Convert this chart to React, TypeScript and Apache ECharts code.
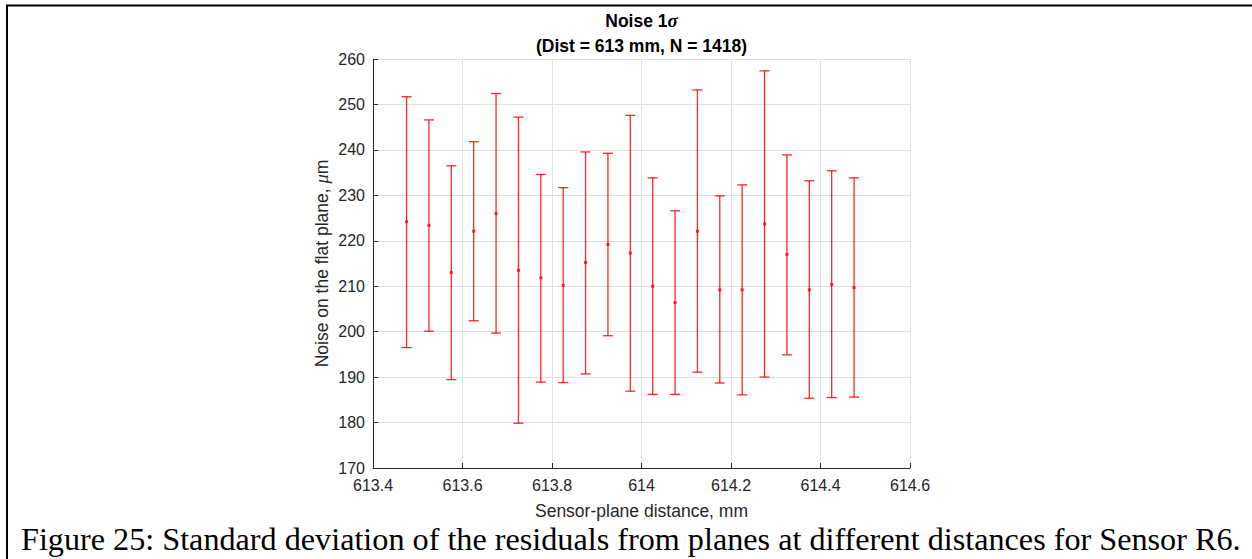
import React, { useEffect, useRef } from "react";
import * as echarts from "echarts";

const distances = [613.475, 613.525, 613.575, 613.625, 613.675, 613.725, 613.775, 613.825, 613.875, 613.925, 613.975, 614.025, 614.075, 614.125, 614.175, 614.225, 614.275, 614.325, 614.375, 614.425, 614.475];
const means = [224.2, 223.4, 213.0, 222.1, 226.0, 213.5, 211.85, 210.2, 215.2, 219.2, 217.3, 210.0, 206.4, 222.1, 209.2, 209.2, 223.7, 217.0, 209.2, 210.4, 209.7];
const uppers = [251.7, 246.6, 236.5, 241.8, 252.4, 247.2, 234.6, 231.7, 239.55, 239.25, 247.6, 233.85, 226.6, 253.2, 229.9, 232.3, 257.4, 238.9, 233.2, 235.4, 233.85];
const lowers = [196.5, 200.1, 189.45, 202.4, 199.7, 179.85, 188.9, 188.8, 190.7, 199.1, 186.9, 186.2, 186.2, 191.1, 188.7, 186.1, 190.0, 194.9, 185.35, 185.5, 185.6];

const titleLine1 = "Noise 1";
const titleSigma = "σ";
const titleLine2 = "(Dist = 613 mm, N = 1418)";
const xName = "Sensor-plane distance, mm";
const yNamePre = "Noise on the flat plane, ";
const yNameMu = "μ";
const yNamePost = "m";
const caption = "Figure 25: Standard deviation of the residuals from planes at different distances for Sensor R6.";

const SANS = "'Liberation Sans', Arial, Helvetica, sans-serif";
const SERIF = "'Liberation Serif', 'Times New Roman', serif";
const TXT = "#262626";
const RED = "#ff0000";

export default function App() {
  const ref = useRef<HTMLDivElement>(null);
  useEffect(() => {
    if (!ref.current) return;
    const chart = echarts.init(ref.current, undefined, { renderer: "svg" });
    const barData = distances.map((d, i) => [d, lowers[i], uppers[i]]);
    const meanData = distances.map((d, i) => [d, means[i]]);
    chart.setOption({
      animation: false,
      backgroundColor: "#ffffff",
      title: {
        left: 641.5,
        top: 8,
        padding: 0,
        textAlign: "center",
        text: `{b|${titleLine1}}{s|${titleSigma}}\n{b|${titleLine2}}`,
        textStyle: {
          rich: {
            b: { fontFamily: SANS, fontWeight: "bold", fontSize: 17.5, color: "#000", lineHeight: 25 },
            s: { fontFamily: SERIF, fontStyle: "italic", fontSize: 19, color: "#000", lineHeight: 25 },
          },
        },
      },
      grid: { left: 373, right: 342, top: 59, bottom: 91, containLabel: false },
      xAxis: {
        type: "value",
        min: 613.4,
        max: 614.6,
        interval: 0.2,
        name: xName,
        nameLocation: "middle",
        nameGap: 34,
        nameTextStyle: { fontFamily: SANS, fontSize: 17.5, color: TXT },
        axisLine: { show: true, onZero: false, lineStyle: { color: TXT, width: 1 } },
        axisTick: { show: true, inside: true, length: 5, lineStyle: { color: TXT } },
        axisLabel: {
          margin: 9,
          fontFamily: SANS,
          fontSize: 16,
          color: TXT,
          formatter: (v: number) => String(parseFloat(v.toFixed(1))),
        },
        splitLine: { show: true, lineStyle: { color: "#e0e0e0", width: 1 } },
      },
      yAxis: {
        type: "value",
        min: 170,
        max: 260,
        interval: 10,
        name: `{n|${yNamePre}}{m|${yNameMu}}{n|${yNamePost}}`,
        nameLocation: "middle",
        nameGap: 42,
        nameTextStyle: {
          rich: {
            n: { fontFamily: SANS, fontSize: 17.5, color: TXT },
            m: { fontFamily: SERIF, fontStyle: "italic", fontSize: 18.5, color: TXT },
          },
        },
        axisLine: { show: true, onZero: false, lineStyle: { color: TXT, width: 1 } },
        axisTick: { show: true, inside: true, length: 5, lineStyle: { color: TXT } },
        axisLabel: { margin: 8, fontFamily: SANS, fontSize: 16, color: TXT },
        splitLine: { show: true, lineStyle: { color: "#e0e0e0", width: 1 } },
      },
      series: [
        {
          type: "custom",
          data: barData,
          encode: { x: 0, y: [1, 2] },
          renderItem: (params: any, api: any) => {
            const x = api.value(0);
            const lo = api.value(1);
            const hi = api.value(2);
            const pHi = api.coord([x, hi]);
            const pLo = api.coord([x, lo]);
            const hw = 5;
            const style = { stroke: RED, lineWidth: 1.3, opacity: 0.85 };
            return {
              type: "group",
              children: [
                { type: "line", shape: { x1: pHi[0], y1: pHi[1], x2: pLo[0], y2: pLo[1] }, style },
                { type: "line", shape: { x1: pHi[0] - hw, y1: pHi[1], x2: pHi[0] + hw, y2: pHi[1] }, style },
                { type: "line", shape: { x1: pLo[0] - hw, y1: pLo[1], x2: pLo[0] + hw, y2: pLo[1] }, style },
              ],
            };
          },
          z: 3,
        },
        {
          type: "scatter",
          data: meanData,
          symbol: "rect",
          symbolSize: 3,
          itemStyle: { color: RED },
          z: 4,
        },
      ],
      graphic: [
        { type: "line", shape: { x1: 6, y1: 5.5, x2: 1252, y2: 5.5 }, style: { stroke: "#000", lineWidth: 2 } },
        { type: "line", shape: { x1: 7, y1: 5, x2: 7, y2: 559 }, style: { stroke: "#000", lineWidth: 2 } },
        {
          type: "text",
          left: 21,
          top: 523,
          style: { text: caption, fontFamily: SERIF, fontSize: 32.2, fill: "#000" },
        },
      ],
    });
    return () => chart.dispose();
  }, []);
  return (
    <div
      ref={ref}
      style={{ position: "absolute", left: 0, top: 0, width: 1252, height: 559, background: "#fff" }}
    />
  );
}
